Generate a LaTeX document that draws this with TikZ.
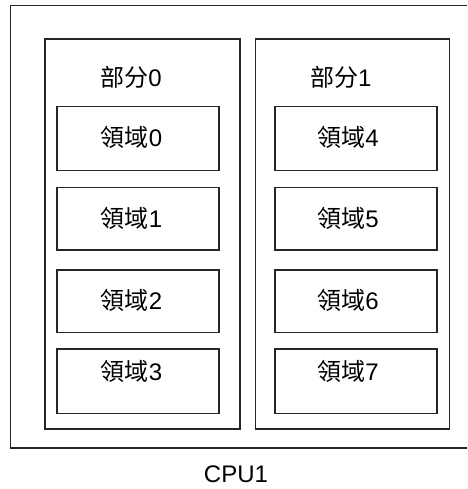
\documentclass[tikz,border=0pt]{standalone}
\usepackage{fontspec}
\setmainfont{Liberation Sans}
\newfontfamily\cjk{Noto Sans CJK SC}
\begin{document}
\begin{tikzpicture}[x=1pt,y=-1pt,
  frame/.style={draw=black!85, line width=1.3pt},
  box/.style={frame, inner sep=0pt, outer sep=0pt, minimum width=162pt},
  part/.style={frame, inner sep=0pt, outer sep=0pt, minimum height=390pt},
  lbl/.style={inner sep=0pt, text height=17.2pt, text depth=0pt, font=\fontsize{24}{28}\selectfont}]
\useasboundingbox (0,0) rectangle (467,489);
\begin{scope}
\clip (0,0) rectangle (467,489);
\draw[frame] (10.3,5.7) rectangle (480,448);
\end{scope}
% partitions
\node[part, minimum width=195pt] (p0) at (142.5,234) {};
\node[part, minimum width=194.4pt] (p1) at (352.5,234) {};
\node[lbl] (t0) at (131,78) {{\cjk 部分}0};
\node[lbl] (t1) at (340.7,78) {{\cjk 部分}1};
% regions left
\node[box, minimum height=64pt] (r0) at (138,138.7) {};
\node[box, minimum height=62.7pt] (r1) at (138,218.65) {};
\node[box, minimum height=62.7pt] (r2) at (138,301.35) {};
\node[box, minimum height=64.7pt] (r3) at (138,381.35) {};
% regions right
\node[box, minimum height=64pt] (r4) at (355.85,138.7) {};
\node[box, minimum height=62.7pt] (r5) at (355.85,218.65) {};
\node[box, minimum height=62.7pt] (r6) at (355.85,301.35) {};
\node[box, minimum height=64.7pt] (r7) at (355.85,381.35) {};
% labels
\node[lbl] (l0) at (131.5,138) {{\cjk 領域}0};
\node[lbl] (l1) at (131.5,218.5) {{\cjk 領域}1};
\node[lbl] (l2) at (131.5,301) {{\cjk 領域}2};
\node[lbl] (l3) at (131.5,371.7) {{\cjk 領域}3};
\node[lbl] (l4) at (348,138) {{\cjk 領域}4};
\node[lbl] (l5) at (348,218.5) {{\cjk 領域}5};
\node[lbl] (l6) at (348,301) {{\cjk 領域}6};
\node[lbl] (l7) at (348,371.7) {{\cjk 領域}7};
\node[lbl] (cpu) at (236,474) {CPU1};
\end{tikzpicture}
\end{document}
